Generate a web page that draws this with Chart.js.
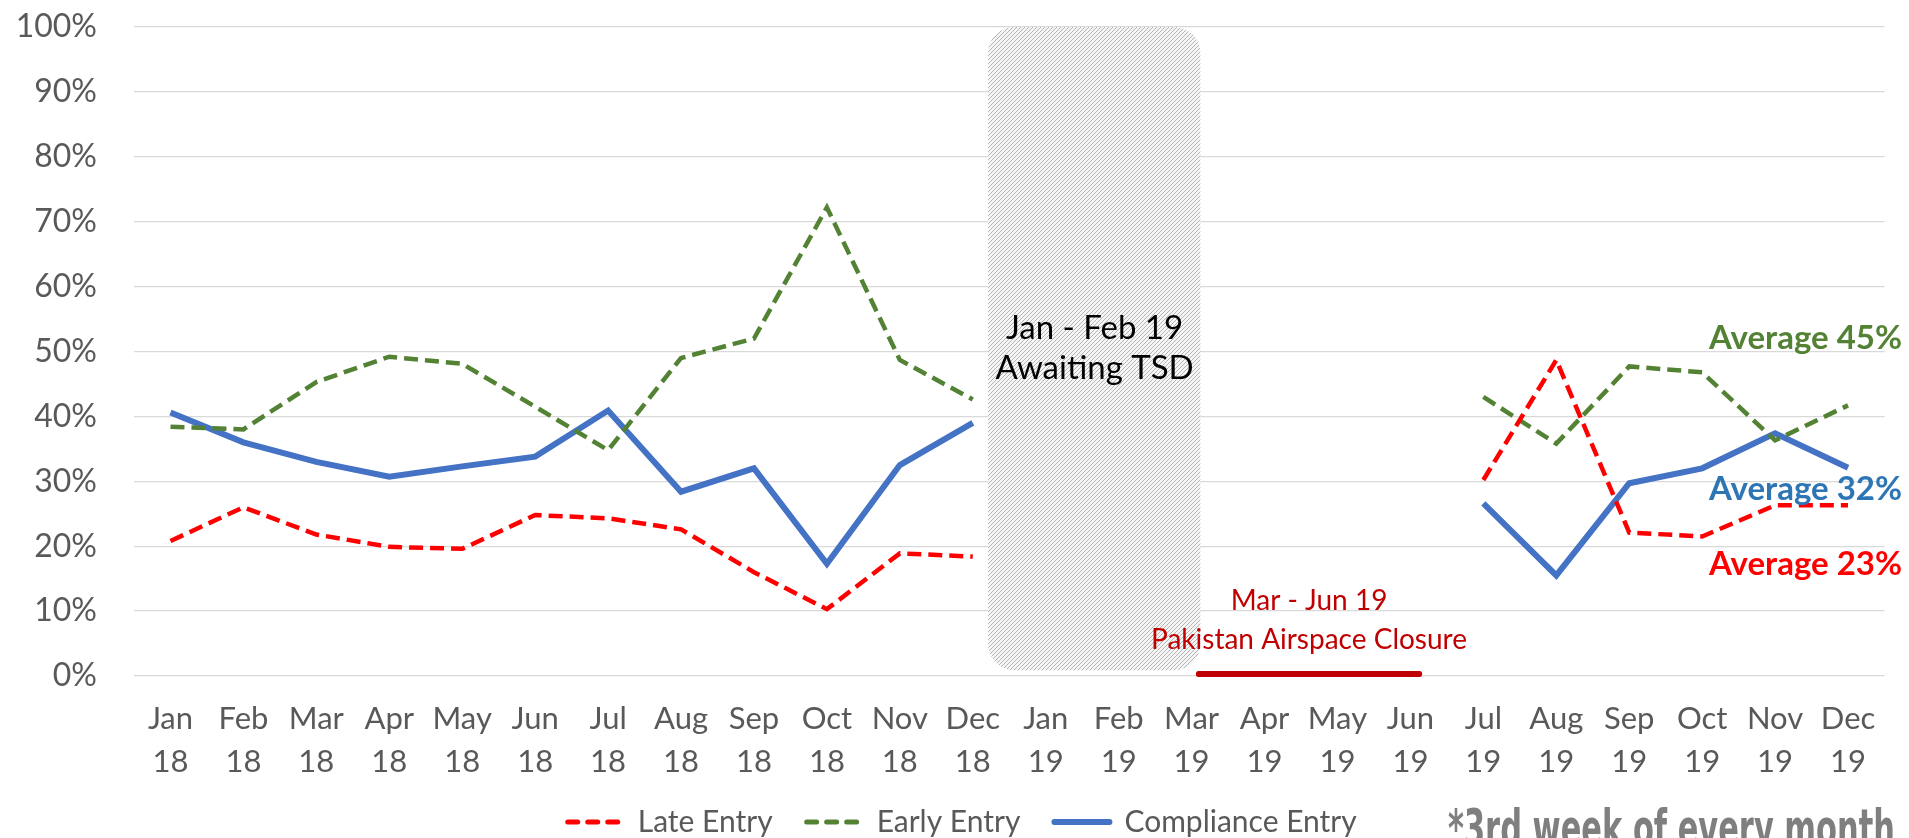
<!DOCTYPE html>
<html>
<head>
<meta charset="utf-8">
<script src="https://cdn.jsdelivr.net/npm/chart.js@4.4.0/dist/chart.umd.min.js"></script>
<style>
html, body { margin: 0; padding: 0; background: #fff; }
#wrap { width: 1909px; height: 838px; position: relative; }
</style>
</head>
<body>
<div id="wrap"><canvas id="entrychart"></canvas></div>
<script>
// months on the x axis (two-line labels)
var months = ['Jan', 'Feb', 'Mar', 'Apr', 'May', 'Jun', 'Jul', 'Aug', 'Sep', 'Oct', 'Nov', 'Dec',
              'Jan', 'Feb', 'Mar', 'Apr', 'May', 'Jun', 'Jul', 'Aug', 'Sep', 'Oct', 'Nov', 'Dec'];
var years = ['18', '18', '18', '18', '18', '18', '18', '18', '18', '18', '18', '18',
             '19', '19', '19', '19', '19', '19', '19', '19', '19', '19', '19', '19'];

// % of flights, 3rd week of every month (Jan - Jun 19 missing)
var lateEntry = [20.8, 26.0, 21.8, 19.9, 19.6, 24.8, 24.3, 22.6, 16.0, 10.3, 18.9, 18.4,
                 null, null, null, null, null, null, 30.2, 48.7, 22.1, 21.5, 26.3, 26.3];
var earlyEntry = [38.4, 38.0, 45.3, 49.2, 48.1, 41.5, 34.8, 49.0, 52.0, 72.2, 48.7, 42.6,
                  null, null, null, null, null, null, 43.0, 35.8, 47.7, 46.8, 36.3, 41.7];
var complianceEntry = [40.6, 36.0, 33.0, 30.7, 32.3, 33.8, 40.9, 28.4, 32.0, 17.3, 32.5, 39.0,
                       null, null, null, null, null, null, 26.6, 15.5, 29.7, 32.0, 37.4, 32.1];

var averages = ['Average 45%', 'Average 32%', 'Average 23%'];
var tsdNote = ['Jan - Feb 19', 'Awaiting TSD'];
var closureNote = ['Mar - Jun 19', 'Pakistan Airspace Closure'];
var footnote = '*3rd week of every month';

var labels = months.map(function (m, i) { return [m, years[i]]; });

function hatchPattern(ctx) {
    var c = document.createElement('canvas');
    c.width = 4; c.height = 4;
    var g = c.getContext('2d');
    g.fillStyle = '#f6f6f6';
    g.fillRect(0, 0, 4, 4);
    g.strokeStyle = '#b4b4b4';
    g.lineWidth = 1;
    g.beginPath();
    g.moveTo(-1, 5); g.lineTo(5, -1);
    g.moveTo(-3, 3); g.lineTo(3, -3);
    g.moveTo(1, 7); g.lineTo(7, 1);
    g.stroke();
    return ctx.createPattern(c, 'repeat');
}

function roundRect(ctx, x, y, w, h, r) {
    ctx.beginPath();
    ctx.moveTo(x + r, y);
    ctx.lineTo(x + w - r, y);
    ctx.arcTo(x + w, y, x + w, y + r, r);
    ctx.lineTo(x + w, y + h - r);
    ctx.arcTo(x + w, y + h, x + w - r, y + h, r);
    ctx.lineTo(x + r, y + h);
    ctx.arcTo(x, y + h, x, y + h - r, r);
    ctx.lineTo(x, y + r);
    ctx.arcTo(x, y, x + r, y, r);
    ctx.closePath();
}

var notes = {
    id: 'notes',
    afterLayout: function (chart) {
        // legend sits a little right of centre in the original
        chart.legend.left += 20;
        chart.legend.right += 20;
    },
    beforeDatasetsDraw: function (chart) {
        var ctx = chart.ctx, xs = chart.scales.x, ys = chart.scales.y;
        // hatched "awaiting TSD" block
        var l = xs.getPixelForValue(11.21), r = xs.getPixelForValue(14.12);
        var t = ys.getPixelForValue(100), b = ys.getPixelForValue(0.9);
        ctx.save();
        roundRect(ctx, l, t, r - l, b - t, 26);
        ctx.fillStyle = hatchPattern(ctx);
        ctx.fill();
        ctx.restore();

        // airspace closure bar
        var bl = xs.getPixelForValue(14.06), br = xs.getPixelForValue(17.16);
        var by = ys.getPixelForValue(0);
        ctx.save();
        roundRect(ctx, bl, by - 5, br - bl, 6, 2.5);
        ctx.fillStyle = '#c00000';
        ctx.fill();
        ctx.restore();
    },
    afterDatasetsDraw: function (chart) {
        var ctx = chart.ctx, xs = chart.scales.x, ys = chart.scales.y;
        ctx.save();
        ctx.textAlign = 'center';
        ctx.textBaseline = 'middle';

        ctx.font = '33px Lato';
        ctx.fillStyle = '#000000';
        var cx = xs.getPixelForValue(12.67);
        ctx.fillText(tsdNote[0], cx, ys.getPixelForValue(53.6));
        ctx.fillText(tsdNote[1], cx, ys.getPixelForValue(47.4));

        ctx.font = '28px Lato';
        ctx.fillStyle = '#c00000';
        var mx = xs.getPixelForValue(15.61);
        ctx.fillText(closureNote[0], mx, ys.getPixelForValue(11.6));
        ctx.fillText(closureNote[1], mx, ys.getPixelForValue(5.6));

        ctx.font = 'bold 33px Lato';
        ctx.textAlign = 'right';
        var ax = xs.getPixelForValue(23.74);
        ctx.fillStyle = '#548235';
        ctx.fillText(averages[0], ax, ys.getPixelForValue(52.0));
        ctx.fillStyle = '#2e75b6';
        ctx.fillText(averages[1], ax, ys.getPixelForValue(28.7));
        ctx.fillStyle = '#ff0000';
        ctx.fillText(averages[2], ax, ys.getPixelForValue(17.2));
        ctx.restore();
    },
    afterDraw: function (chart) {
        var ctx = chart.ctx;
        ctx.save();
        ctx.font = 'bold 52px "Liberation Sans Narrow", "DejaVu Sans Condensed", Lato';
        ctx.fillStyle = '#7f7f7f';
        ctx.textBaseline = 'alphabetic';
        var w = ctx.measureText(footnote).width;
        ctx.translate(chart.width - 461, chart.height + 8);
        ctx.scale(447 / w, 1);
        ctx.fillText(footnote, 0, 0);
        ctx.restore();
    }
};

Chart.defaults.font.family = 'Lato';
Chart.defaults.color = '#595959';

var ctxl = document.getElementById('entrychart');
var entryChart = new Chart(ctxl, {
    type: 'line',
    data: {
        labels: labels,
        datasets: [
            {
                label: 'Late Entry',
                data: lateEntry,
                borderColor: '#ff0000',
                backgroundColor: '#ff0000',
                borderWidth: 4.5,
                borderDash: [14, 7],
                pointRadius: 0,
                tension: 0,
                spanGaps: false
            },
            {
                label: 'Early Entry',
                data: earlyEntry,
                borderColor: '#548235',
                backgroundColor: '#548235',
                borderWidth: 4.5,
                borderDash: [14, 7],
                pointRadius: 0,
                tension: 0,
                spanGaps: false
            },
            {
                label: 'Compliance Entry',
                data: complianceEntry,
                borderColor: '#4472c4',
                backgroundColor: '#4472c4',
                borderWidth: 6,
                pointRadius: 0,
                tension: 0,
                spanGaps: false
            }
        ]
    },
    options: {
        responsive: true,
        maintainAspectRatio: false,
        animation: false,
        layout: { padding: { top: 27, right: 24.5, left: 0, bottom: -9 } },
        plugins: {
            tooltip: { enabled: false },
            legend: {
                position: 'bottom',
                labels: {
                    usePointStyle: true,
                    pointStyleWidth: 55,
                    padding: 34,
                    color: '#595959',
                    font: { size: 30 },
                    generateLabels: function (chart) {
                        return chart.data.datasets.map(function (ds, i) {
                            return {
                                text: ds.label,
                                fillStyle: ds.borderColor,
                                strokeStyle: ds.borderColor,
                                lineWidth: ds.borderDash ? 5 : 6,
                                lineDash: ds.borderDash ? [10, 10] : [],
                                lineCap: 'round',
                                pointStyle: 'line',
                                fontColor: '#595959',
                                hidden: false,
                                datasetIndex: i
                            };
                        });
                    }
                }
            }
        },
        scales: {
            x: {
                offset: true,
                grid: { display: false, drawTicks: false },
                border: { display: false },
                ticks: {
                    autoSkip: false,
                    maxRotation: 0,
                    padding: 22,
                    color: '#595959',
                    font: { size: 31, lineHeight: 1.383 }
                },
                afterFit: function (s) { s.height = 97; }
            },
            y: {
                min: 0,
                max: 100,
                grid: { color: '#d9d9d9', lineWidth: 1.3, drawTicks: true, tickLength: 37, tickColor: 'rgba(0,0,0,0)' },
                border: { display: false },
                ticks: {
                    stepSize: 10,
                    padding: 0,
                    color: '#595959',
                    font: { size: 32 },
                    callback: function (v) { return v + '%'; }
                },
                afterFit: function (s) { s.width = 134; }
            }
        }
    },
    plugins: [notes]
});
</script>
</body>
</html>
